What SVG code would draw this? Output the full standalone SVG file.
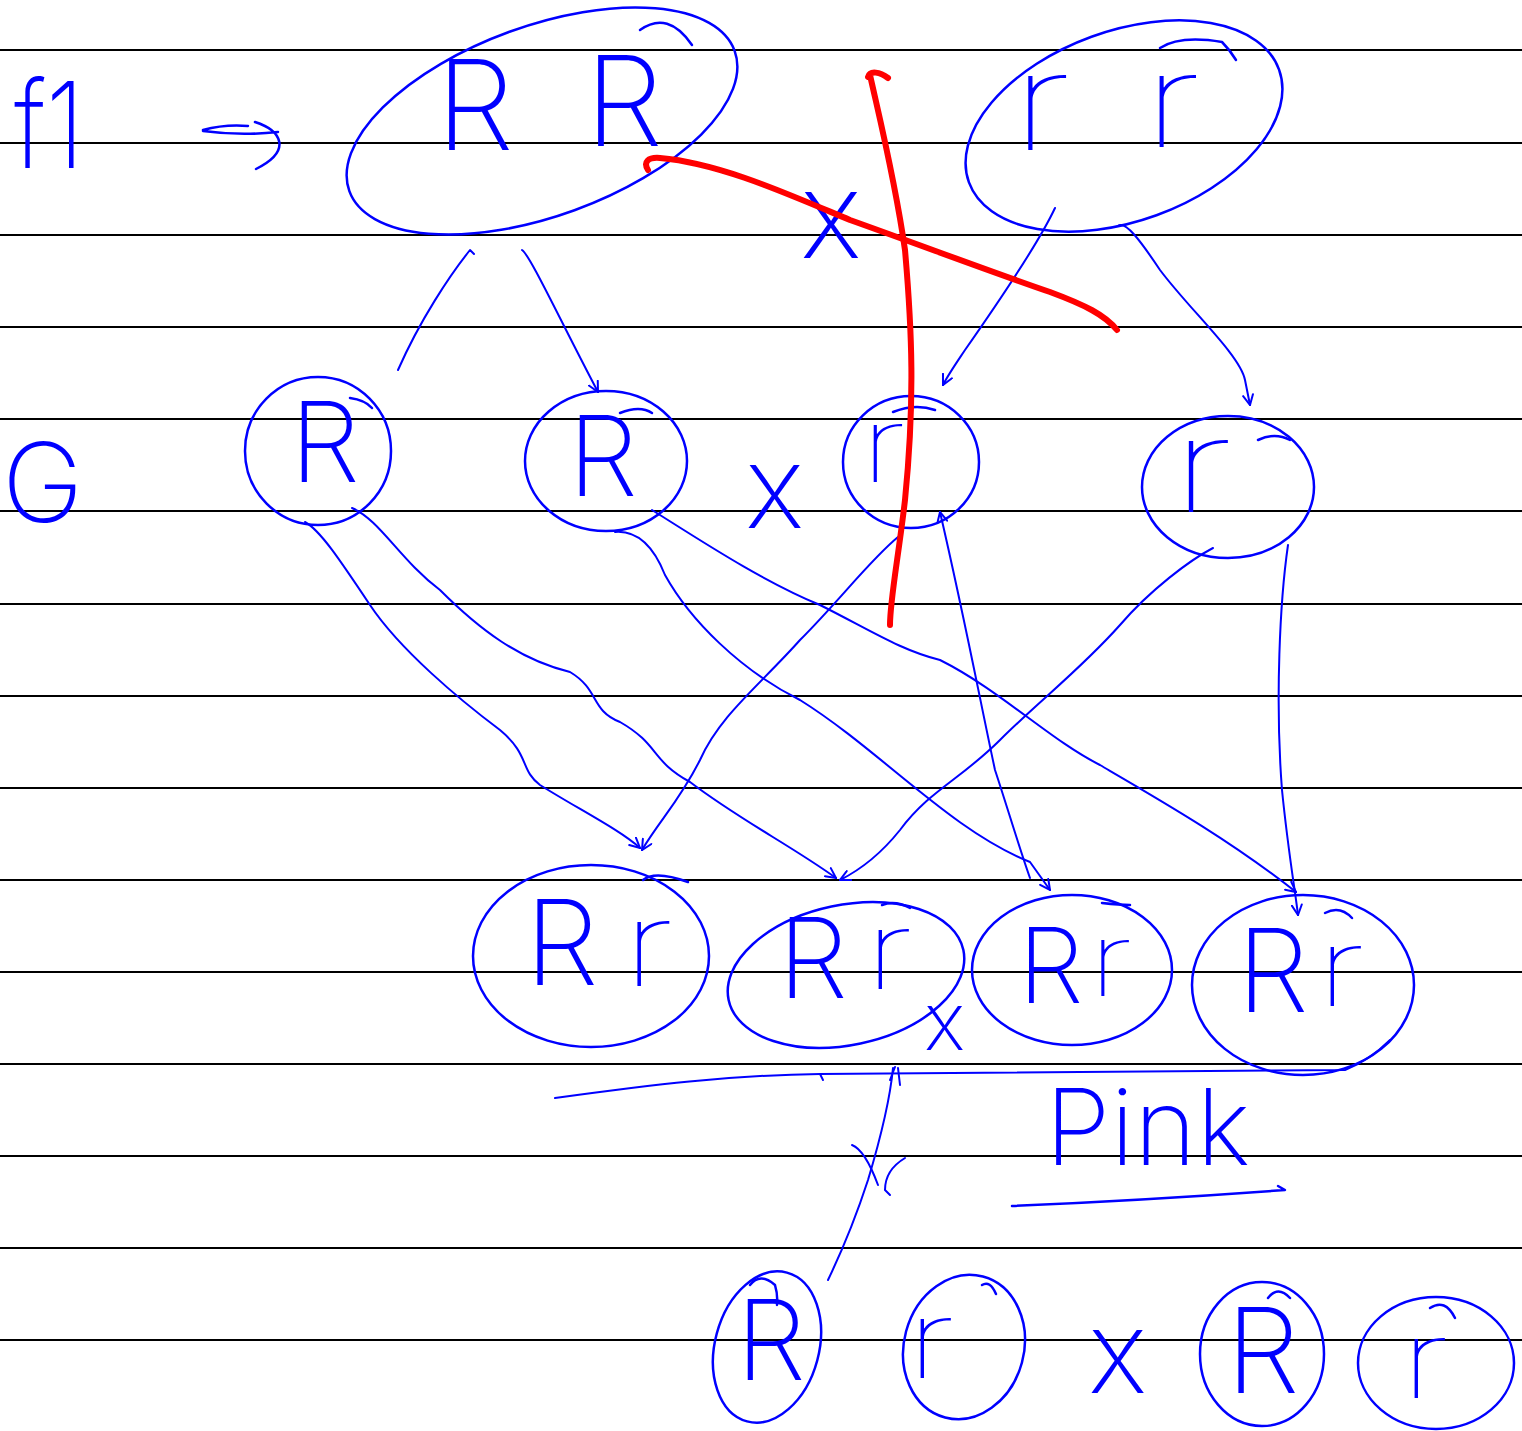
<svg xmlns="http://www.w3.org/2000/svg" width="1522" height="1431" viewBox="0 0 1522 1431">
<defs>
<style>
.rule{stroke:#000;stroke-width:2}
.ink{fill:none;stroke:#0000ff;stroke-width:2.5;stroke-linecap:round;stroke-linejoin:round}
.con{fill:none;stroke:#0000ff;stroke-width:2;stroke-linecap:round;stroke-linejoin:round}
.red{fill:none;stroke:#ff0000;stroke-width:6;stroke-linecap:round;stroke-linejoin:round}
.t{fill:#0000ff;font-family:Inter,"DejaVu Sans","Liberation Sans",sans-serif;font-weight:200}
.tr{fill:#0000ff;font-family:Inter,"DejaVu Sans","Liberation Sans",sans-serif;font-weight:100}
</style>
<marker id="ah" viewBox="0 0 12 12" refX="11" refY="6" markerWidth="12" markerHeight="12" markerUnits="userSpaceOnUse" orient="auto">
<path d="M1,1 L11,6 L1,11" fill="none" stroke="#0000ff" stroke-width="2" stroke-linecap="round"/>
</marker>
</defs>
<rect width="1522" height="1431" fill="#fff"/>
<g id="rules">
<line class="rule" x1="0" y1="50" x2="1522" y2="50"/>
<line class="rule" x1="0" y1="143" x2="1522" y2="143"/>
<line class="rule" x1="0" y1="235" x2="1522" y2="235"/>
<line class="rule" x1="0" y1="327" x2="1522" y2="327"/>
<line class="rule" x1="0" y1="419" x2="1522" y2="419"/>
<line class="rule" x1="0" y1="511" x2="1522" y2="511"/>
<line class="rule" x1="0" y1="604" x2="1522" y2="604"/>
<line class="rule" x1="0" y1="696" x2="1522" y2="696"/>
<line class="rule" x1="0" y1="788" x2="1522" y2="788"/>
<line class="rule" x1="0" y1="880" x2="1522" y2="880"/>
<line class="rule" x1="0" y1="972" x2="1522" y2="972"/>
<line class="rule" x1="0" y1="1064" x2="1522" y2="1064"/>
<line class="rule" x1="0" y1="1156" x2="1522" y2="1156"/>
<line class="rule" x1="0" y1="1248" x2="1522" y2="1248"/>
<line class="rule" x1="0" y1="1340" x2="1522" y2="1340"/>
</g>

<g id="labels">
<text class="t" transform="translate(14,168) scale(1,1.2)" font-size="100">f1</text>
<path class="ink" d="M203,130 Q225,124 248,126 M203,131 Q240,136 278,132 M255,122 C280,130 294,150 256,169"/>
<text class="t" x="2" y="522" font-size="110">G</text>
<text class="t" x="800" y="258" font-size="120">x</text>
<text class="t" x="745" y="528" font-size="115">x</text>
<text class="t" x="924" y="1050" font-size="80">x</text>
<text class="t" x="1088" y="1393" font-size="115">x</text>
<text class="t" x="1045" y="1165" font-size="106">Pink</text>
<path class="ink" d="M1012,1206 Q1150,1200 1285,1190 L1278,1186"/>
</g>

<g id="p1">
<ellipse class="ink" cx="542" cy="121" rx="205" ry="95" transform="rotate(-20 542 121)"/>
<path class="ink" d="M640,30 Q668,10 692,45"/>
<text class="t" x="436" y="150" font-size="125">R</text>
<text class="t" x="585" y="146" font-size="125">R</text>
</g>
<g id="p2">
<ellipse class="ink" cx="1124" cy="126" rx="165" ry="95" transform="rotate(-20 1124 126)"/>
<path class="ink" d="M1160,48 Q1180,35 1222,42 Q1230,50 1236,60"/>
<text class="tr" transform="translate(1010,150) scale(1.4,1)" font-size="135">r</text>
<text class="tr" transform="translate(1142,147) scale(1.4,1)" font-size="130">r</text>
</g>

<g id="g1">
<ellipse class="ink" cx="318" cy="451" rx="73" ry="74"/>
<path class="ink" d="M350,398 Q365,400 372,408"/>
<text class="t" x="290" y="482" font-size="112">R</text>
</g>
<g id="g2">
<ellipse class="ink" cx="606" cy="461" rx="81" ry="70"/>
<path class="ink" d="M620,413 Q640,405 652,413"/>
<text class="t" x="568" y="496" font-size="112">R</text>
</g>
<g id="g3">
<ellipse class="ink" cx="911" cy="462" rx="68" ry="66"/>
<path class="ink" d="M893,412 Q915,403 935,410"/>
<text class="tr" transform="translate(860,482) scale(1.35,1)" font-size="105">r</text>
</g>
<g id="g4">
<ellipse class="ink" cx="1228" cy="487" rx="86" ry="71"/>
<path class="ink" d="M1258,440 Q1275,432 1290,440"/>
<text class="tr" transform="translate(1170,512) scale(1.5,1)" font-size="130">r</text>
</g>

<g id="f2a">
<ellipse class="ink" cx="591" cy="956" rx="118" ry="91"/>
<path class="ink" d="M643,880 Q655,870 688,882"/>
<text class="t" x="525" y="985" font-size="118">R</text>
<text class="tr" transform="translate(622,986) scale(1.35,1)" font-size="118">r</text>
</g>
<g id="f2b">
<ellipse class="ink" cx="846" cy="975" rx="120" ry="70" transform="rotate(-12 846 975)"/>
<path class="ink" d="M882,905 Q895,900 910,908"/>
<text class="t" x="778" y="998" font-size="112">R</text>
<text class="tr" transform="translate(864,989) scale(1.4,1)" font-size="108">r</text>
</g>
<g id="f2c">
<ellipse class="ink" cx="1072" cy="970" rx="100" ry="75"/>
<path class="ink" d="M1102,903 Q1120,905 1130,905"/>
<text class="t" x="1018" y="1003" font-size="105">R</text>
<text class="tr" transform="translate(1088,996) scale(1.35,1)" font-size="102">r</text>
</g>
<g id="f2d">
<ellipse class="ink" cx="1303" cy="985" rx="111" ry="90"/>
<path class="ink" d="M1325,913 Q1340,905 1352,918"/>
<text class="t" x="1237" y="1012" font-size="115">R</text>
<text class="tr" transform="translate(1316,1006) scale(1.4,1)" font-size="108">r</text>
</g>

<g id="b1">
<ellipse class="ink" cx="767" cy="1347" rx="52" ry="77" transform="rotate(15 767 1347)"/>
<path class="ink" d="M750,1285 Q760,1272 775,1285 Q778,1295 777,1305"/>
<text class="t" x="736" y="1380" font-size="112">R</text>
</g>
<g id="b2">
<ellipse class="ink" cx="964" cy="1347" rx="60" ry="73" transform="rotate(15 964 1347)"/>
<path class="ink" d="M982,1285 Q990,1280 996,1294"/>
<text class="tr" transform="translate(906,1378) scale(1.4,1)" font-size="108">r</text>
</g>
<g id="b3">
<ellipse class="ink" cx="1262" cy="1354" rx="62" ry="72"/>
<path class="ink" d="M1268,1298 Q1278,1285 1290,1298"/>
<text class="t" x="1226" y="1393" font-size="118">R</text>
</g>
<g id="b4">
<ellipse class="ink" cx="1436" cy="1363" rx="78" ry="66"/>
<path class="ink" d="M1430,1308 Q1445,1298 1455,1318"/>
<text class="tr" transform="translate(1400,1398) scale(1.4,1)" font-size="108">r</text>
</g>

<g id="connectors">
<path class="con" d="M398,370 C420,320 450,275 470,250 L474,254"/>
<path class="con" marker-end="url(#ah)" d="M522,250 C530,255 560,320 598,392"/>
<path class="con" marker-end="url(#ah)" d="M1055,208 C1040,240 1000,300 965,350 C955,365 948,375 943,385"/>
<path class="con" marker-end="url(#ah)" d="M1118,226 C1125,220 1140,240 1160,270 C1190,310 1240,355 1245,380 L1250,405"/>
<path class="con" marker-end="url(#ah)" d="M305,522 C320,530 340,560 370,605 C400,650 460,700 500,730 C530,755 520,770 540,785 C580,810 620,830 640,848"/>
<path class="con" marker-end="url(#ah)" d="M352,508 C380,520 400,560 440,590 C480,630 520,660 570,672 C600,690 590,710 620,722 C660,745 650,760 690,782 C740,820 790,845 836,878"/>
<path class="con" marker-end="url(#ah)" d="M615,532 C640,530 655,550 665,575 C690,620 740,670 800,700 C880,750 950,830 1030,862 L1050,890"/>
<path class="con" marker-end="url(#ah)" d="M652,510 C700,540 760,580 820,605 C870,630 900,650 940,660 C1000,690 1050,740 1100,765 C1160,800 1230,840 1296,892"/>
<path class="con" marker-end="url(#ah)" d="M898,537 C870,560 840,600 800,640 C760,685 720,715 700,760 C680,800 660,820 642,850"/>
<path class="con" marker-end="url(#ah)" d="M1030,878 C1020,850 1005,800 995,770 C980,700 965,620 940,512"/>
<path class="con" marker-end="url(#ah)" d="M1213,548 C1190,560 1150,590 1120,625 C1080,670 1040,700 1000,740 C960,780 930,790 900,830 C880,855 860,870 840,880"/>
<path class="con" marker-end="url(#ah)" d="M1288,545 C1280,600 1275,700 1282,790 C1288,850 1295,890 1298,915"/>
<path class="con" d="M555,1098 C650,1085 730,1075 820,1074 L1345,1070 C1370,1060 1385,1045 1390,1040"/>
<path class="con" d="M820,1074 L823,1080"/>
<path class="con" d="M893,1068 C890,1100 880,1140 868,1180 C855,1220 840,1255 828,1280 M898,1068 L900,1085 M895,1067 L890,1080"/>
<path class="con" d="M852,1145 Q865,1150 878,1185 M905,1158 Q885,1170 885,1190 L890,1195"/>
</g>

<g id="cancel">
<path class="red" d="M648,170 C643,162 648,157 660,158 C720,163 790,195 850,220 C920,245 1000,275 1050,292 C1085,305 1105,315 1117,330"/>
<path class="red" d="M868,77 C870,70 880,72 888,78 M870,75 C880,120 895,180 905,250 C912,330 915,400 905,500 C898,560 890,600 890,625"/>
</g>
</svg>
